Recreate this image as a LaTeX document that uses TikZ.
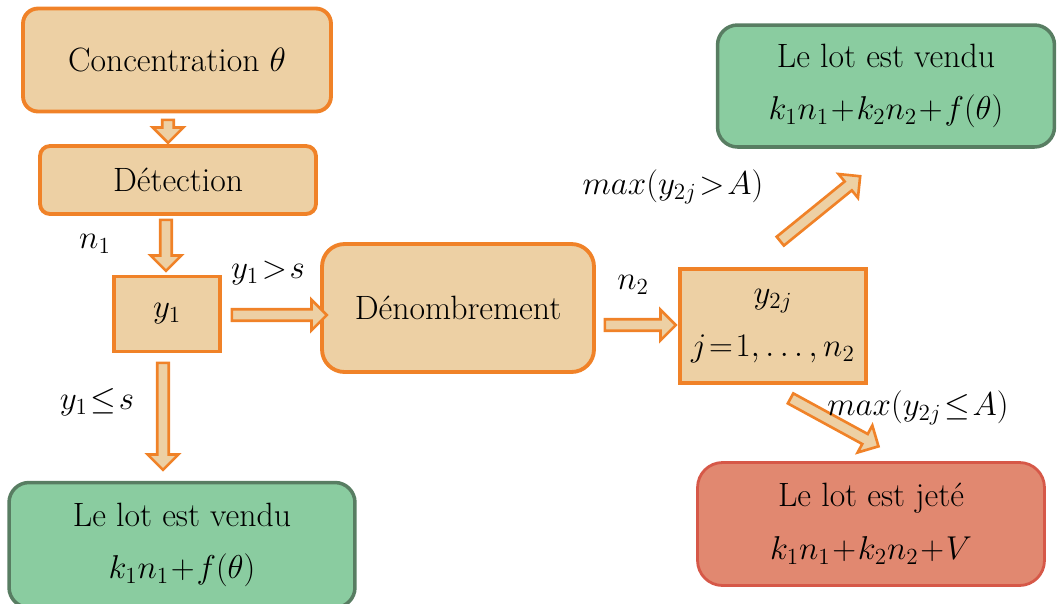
\RequirePackage{fix-cm}
\documentclass[tikz,border=0pt]{standalone}
\usetikzlibrary{shapes.arrows,calc}
\definecolor{boxfill}{RGB}{237,208,164}
\definecolor{boxline}{RGB}{240,130,40}
\definecolor{soldfill}{RGB}{138,204,160}
\definecolor{soldline}{RGB}{88,125,98}
\definecolor{lostfill}{RGB}{225,136,112}
\definecolor{lostline}{RGB}{214,88,72}
\newcommand{\bigfont}{\fontsize{19.2}{30}\selectfont\medmuskip=1mu\thickmuskip=1.5mu}
\newcommand{\eq}[1]{{\fontsize{18.8}{30}\selectfont$#1$}}
\tikzset{
  stagebox/.style={draw=boxline, fill=boxfill, line width=2.2pt, align=center},
  soldbox/.style={draw=soldline, fill=soldfill, line width=2pt, align=center, rounded corners=0.4cm},
  lostbox/.style={draw=lostline, fill=lostfill, line width=1.6pt, align=center, rounded corners=0.5cm},
  flowarrow/.style={single arrow, draw=boxline, fill=boxfill, line width=1.5pt,
    inner sep=2.5pt, single arrow head extend=5.5pt, single arrow head indent=0pt},
  cond/.style={inner sep=0pt}
}
% fat arrow from one named point to another
\newcommand{\flowarrow}[2]{%
  \path let \p1=($(#2)-(#1)$), \n1={veclen(\x1,\y1)}, \n2={atan2(\y1,\x1)} in
    node[flowarrow, minimum height=\n1, rotate=\n2] at ($(#1)!0.5!(#2)$) {};}

\begin{document}
\begin{tikzpicture}[x=0.02cm, y=-0.02cm, font=\bigfont]
  \useasboundingbox (0,0) rectangle (1057,603);
  % stages
  \node[stagebox, rounded corners=0.3cm, minimum width=6.16cm, minimum height=2.06cm] (conc) at (177,60) {Concentration $\theta$};
  \node[stagebox, rounded corners=0.2cm, minimum width=5.52cm, minimum height=1.36cm] (detect) at (178,180) {Détection};
  \node[stagebox, minimum width=2.12cm, minimum height=1.5cm] (yone) at (167,314) {\eq{y_1}};
  \node[stagebox, rounded corners=0.45cm, minimum width=5.44cm, minimum height=2.56cm] (denomb) at (458,308) {Dénombrement};
  \node[stagebox, line width=2.8pt, minimum width=3.72cm, minimum height=2.28cm] (ytwo) at (773,326) {\eq{y_{2j}}\\\eq{j=1,\ldots,n_2}};
  % outcomes
  \node[soldbox, minimum width=6.74cm, minimum height=2.44cm] (soldtop) at (886,86) {Le lot est vendu\\\eq{k_1n_1+k_2n_2+f(\theta)}};
  \node[soldbox, minimum width=6.92cm, minimum height=2.5cm] (soldleft) at (182,545) {Le lot est vendu\\\eq{k_1n_1+f(\theta)}};
  \node[lostbox, minimum width=6.94cm, minimum height=2.46cm] (lost) at (871,524) {Le lot est jeté\\\eq{k_1n_1+k_2n_2+V}};
  % arrow ends
  \coordinate (a1) at (168,117); \coordinate (b1) at (168,140);
  \coordinate (a2) at (166,217); \coordinate (b2) at (166,268);
  \coordinate (a3) at (229,315); \coordinate (b3) at (324,315);
  \coordinate (a4) at (163,360); \coordinate (b4) at (163,467);
  \coordinate (a5) at (602,325); \coordinate (b5) at (673,325);
  \coordinate (a6) at (778,243); \coordinate (b6) at (858,178);
  \coordinate (a7) at (788,397); \coordinate (b7) at (876,445);
  \flowarrow{a1}{b1}
  \flowarrow{a2}{b2}
  \flowarrow{a3}{b3}
  \flowarrow{a4}{b4}
  \flowarrow{a5}{b5}
  \flowarrow{a6}{b6}
  \flowarrow{a7}{b7}
  % conditions
  \node[cond] (none) at (95,244) {\eq{n_1}};
  \node[cond] (up) at (268,273) {\eq{y_1>s}};
  \node[cond] (down) at (97,402) {\eq{y_1\leq s}};
  \node[cond] (ntwo) at (633,285) {\eq{n_2}};
  \node[cond] (maxup) at (673,187) {\eq{max(y_{2j}>A)}};
  \node[cond] (maxdown) at (918,408) {\eq{max(y_{2j}\leq A)}};
\end{tikzpicture}
\end{document}
